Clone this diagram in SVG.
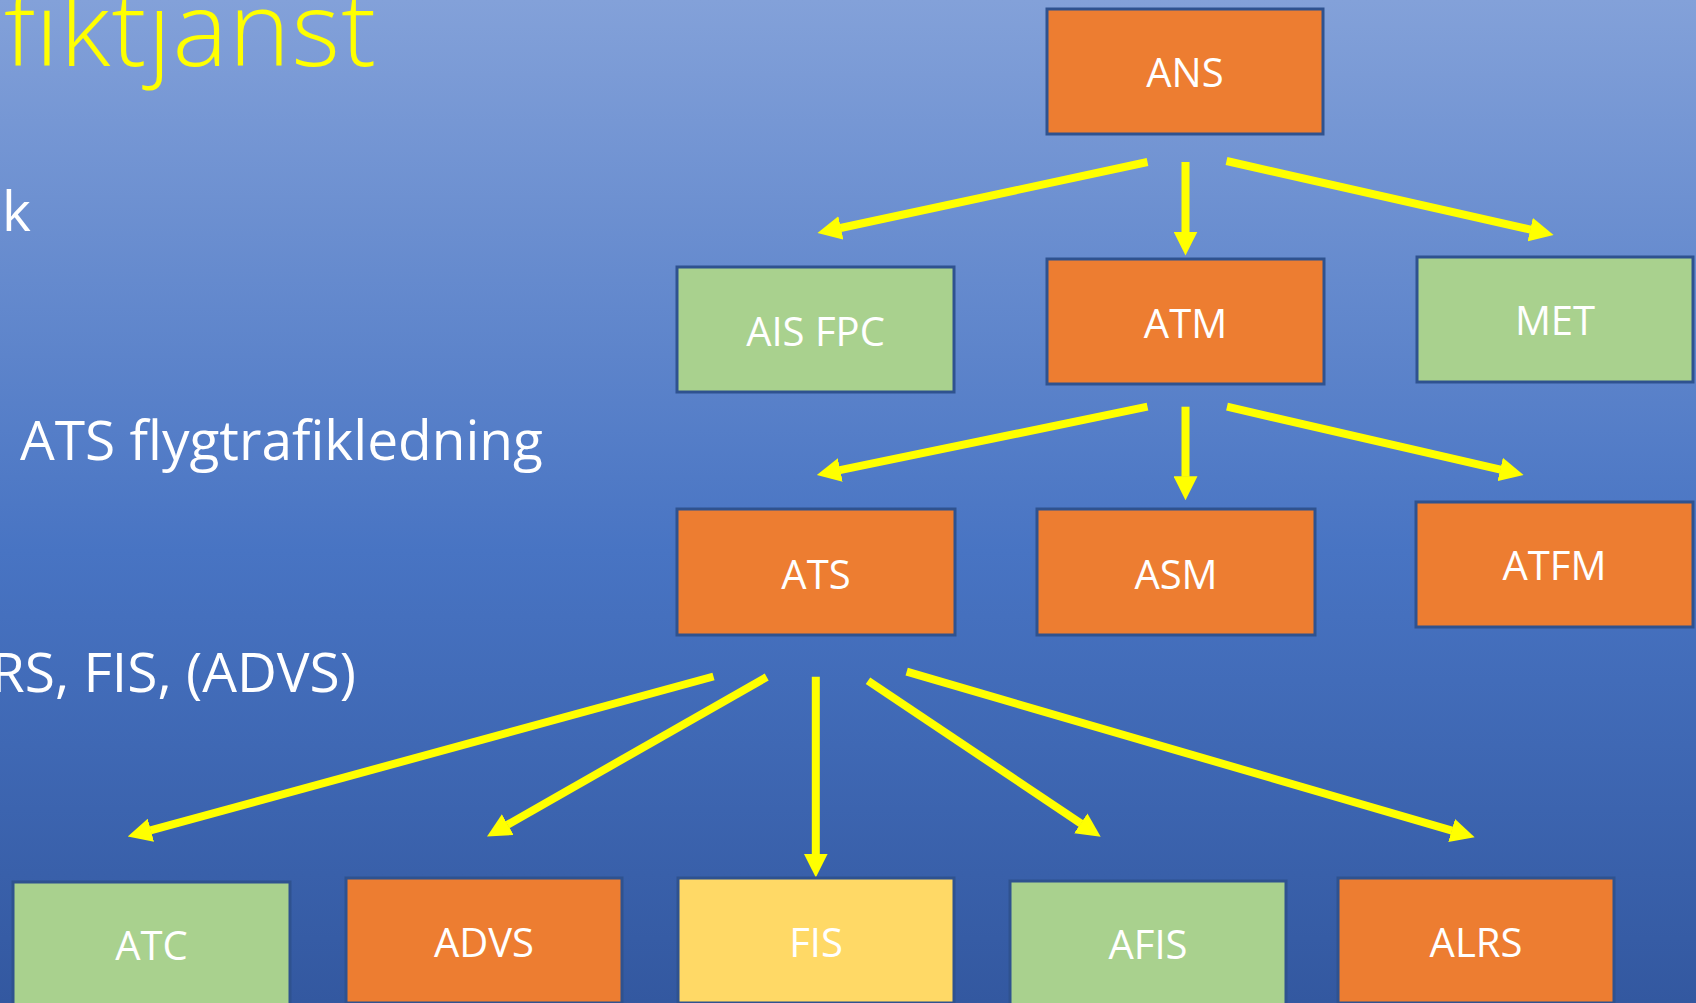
<svg xmlns="http://www.w3.org/2000/svg" width="1696" height="1003" viewBox="0 0 1696 1003">
  <defs>
    <linearGradient id="bg" x1="0" y1="0" x2="0" y2="1">
      <stop offset="0" stop-color="#83A1D9"/>
      <stop offset="0.55" stop-color="#4874C3"/>
      <stop offset="1" stop-color="#3358A0"/>
    </linearGradient>
    <marker id="ah" viewBox="0 0 3 3" markerWidth="3" markerHeight="3" refX="0.05" refY="1.5" orient="auto" markerUnits="strokeWidth">
      <path d="M0,0 L3,1.5 L0,3 z" fill="#FFFF00"/>
    </marker>
    <style>
      .box { stroke: #2F528F; stroke-width: 3; }
      .orange { fill: #ED7D31; }
      .green { fill: #A9D18E; }
      .yellow { fill: #FFD966; }
      .lbl { font-family: "Open Sans", "Noto Sans", "Liberation Sans", sans-serif; font-size: 40px; fill: #FFFFFF; text-anchor: middle; }
      .body { font-family: "Open Sans", "Noto Sans", "Liberation Sans", sans-serif; font-size: 55px; fill: #FFFFFF; }
      .title { font-family: "Open Sans", "Noto Sans", "Liberation Sans", sans-serif; font-size: 104px; font-weight: 300; fill: #FFFF00; }
      .arr { stroke: #FFFF00; stroke-width: 8; fill: none; marker-end: url(#ah); }
    </style>
  </defs>
  <rect x="0" y="0" width="1696" height="1003" fill="url(#bg)"/>

  <text class="title" x="4" y="66" textLength="372">fiktjänst</text>
  <text class="body" x="2" y="231">k</text>
  <text class="body" x="20" y="460">ATS flygtrafikledning</text>
  <text class="body" x="356" y="692" text-anchor="end">RS, FIS, (ADVS)</text>

  <g id="connectors">
    <line class="arr" x1="1147.5" y1="162" x2="840.5" y2="228"/>
    <line class="arr" x1="1185.5" y1="162" x2="1185.5" y2="232"/>
    <line class="arr" x1="1226.5" y1="161" x2="1530.6" y2="229.7"/>
    <line class="arr" x1="1147.5" y1="406.7" x2="839.9" y2="470.2"/>
    <line class="arr" x1="1185.5" y1="406.7" x2="1185.5" y2="476.7"/>
    <line class="arr" x1="1227" y1="406.7" x2="1500.6" y2="469.6"/>
    <line class="arr" x1="713.5" y1="676.5" x2="150.5" y2="830.4"/>
    <line class="arr" x1="766.7" y1="677" x2="507.5" y2="824.8"/>
    <line class="arr" x1="815.8" y1="676.7" x2="815.8" y2="854"/>
    <line class="arr" x1="868" y1="680.7" x2="1081.1" y2="823.6"/>
    <line class="arr" x1="906.7" y1="671.7" x2="1452" y2="830.6"/>
  </g>

  <g id="ANS"><rect class="box orange" x="1047" y="9" width="276" height="125"/><text class="lbl" x="1185" y="87">ANS</text></g>
  <g id="AIS_FPC"><rect class="box green" x="677" y="267" width="277" height="125"/><text class="lbl" x="815.5" y="346">AIS FPC</text></g>
  <g id="ATM"><rect class="box orange" x="1047" y="259" width="277" height="125"/><text class="lbl" x="1185.5" y="338">ATM</text></g>
  <g id="MET"><rect class="box green" x="1417" y="257" width="276" height="125"/><text class="lbl" x="1555" y="335">MET</text></g>
  <g id="ATS"><rect class="box orange" x="677" y="509" width="278" height="126"/><text class="lbl" x="816" y="589">ATS</text></g>
  <g id="ASM"><rect class="box orange" x="1037" y="509" width="278" height="126"/><text class="lbl" x="1176" y="589">ASM</text></g>
  <g id="ATFM"><rect class="box orange" x="1416" y="502" width="277" height="125"/><text class="lbl" x="1554.5" y="580">ATFM</text></g>
  <g id="ATC"><rect class="box green" x="13" y="882" width="277" height="125"/><text class="lbl" x="151.5" y="960">ATC</text></g>
  <g id="ADVS"><rect class="box orange" x="346" y="878" width="276" height="125"/><text class="lbl" x="484" y="957">ADVS</text></g>
  <g id="FIS"><rect class="box yellow" x="678" y="878" width="276" height="125"/><text class="lbl" x="816" y="957">FIS</text></g>
  <g id="AFIS"><rect class="box green" x="1010" y="881" width="276" height="125"/><text class="lbl" x="1148" y="959">AFIS</text></g>
  <g id="ALRS"><rect class="box orange" x="1338" y="878" width="276" height="125"/><text class="lbl" x="1476" y="957">ALRS</text></g>
</svg>
